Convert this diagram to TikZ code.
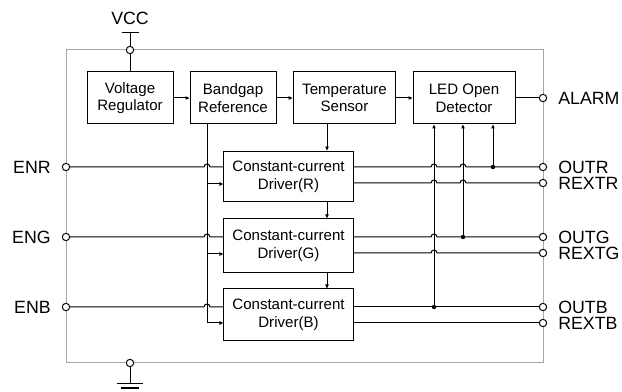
\documentclass[tikz,border=0pt]{standalone}
\usepackage{fontspec}
\setmainfont{Liberation Sans}
\usetikzlibrary{arrows.meta,positioning}

\begin{document}
\begin{tikzpicture}[x=.75pt,y=-.75pt,line width=.75pt,
  blk/.style={draw,inner sep=0pt,align=center,font=\fontsize{11.3}{13.3}\selectfont},
  pin/.style={draw,circle,fill=white,inner sep=0pt,minimum size=5.5pt},
  pinlbl/.style={inner sep=0pt,font=\fontsize{13.3}{15}\selectfont},
  arr/.style={-{Triangle[length=3pt,width=2.5pt]}}]
\path[use as bounding box] (0,0) rectangle (622,392);
% chip outline
\draw[gray!70] (66,50) rectangle (543,363);
% function blocks
\node[blk,minimum width=64.5pt,minimum height=39pt] (vreg) at (130,98) {Voltage\\Regulator};
\node[blk,minimum width=64.5pt,minimum height=39pt] (bgref) at (233,98) {Bandgap\\Reference};
\node[blk,minimum width=77pt,minimum height=39pt] (tsens) at (344.5,98) {Temperature\\Sensor};
\node[blk,minimum width=76.5pt,minimum height=39pt] (ledod) at (464,98) {LED Open\\Detector};
\node[blk,minimum width=97pt,minimum height=38pt] (drvr) at (288.5,176.5) {Constant-current\\Driver(R)};
\node[blk,minimum width=97pt,minimum height=40pt] (drvg) at (288.5,245.5) {Constant-current\\Driver(G)};
\node[blk,minimum width=97pt,minimum height=39pt] (drvb) at (288.5,315) {Constant-current\\Driver(B)};
% pins
\node[pin] (pvcc) at (130,50) {};
\node[pin] (pgnd) at (130,363) {};
\node[pin] (penr) at (66,167) {};
\node[pin] (peng) at (66,237) {};
\node[pin] (penb) at (66,307) {};
\node[pin] (palarm) at (543,98) {};
\node[pin] (poutr) at (543,167) {};
\node[pin] (prextr) at (543,183) {};
\node[pin] (poutg) at (543,237) {};
\node[pin] (prextg) at (543,253) {};
\node[pin] (poutb) at (543,307) {};
\node[pin] (prextb) at (543,323) {};
% pin labels
\node[pinlbl,left=8pt of penr] {ENR};
\node[pinlbl,left=8pt of peng] {ENG};
\node[pinlbl,left=8pt of penb] {ENB};
\node[pinlbl,right=8pt of palarm] {ALARM};
\node[pinlbl,right=8pt of poutr] {OUTR};
\node[pinlbl,right=8pt of prextr] {REXTR};
\node[pinlbl,right=8pt of poutg] {OUTG};
\node[pinlbl,right=8pt of prextg] {REXTG};
\node[pinlbl,right=8pt of poutb] {OUTB};
\node[pinlbl,right=8pt of prextb] {REXTB};
% supply and ground
\coordinate (vccbar) at (130,33);
\coordinate (gndbar) at (130,384);
\draw (pvcc) -- (vreg);
\draw (pvcc) -- (vccbar);
\draw (vccbar) ++(-8.5,0) -- ++(17,0);
\node[pinlbl,above=6pt of vccbar] {VCC};
\draw (pgnd) -- (gndbar);
\draw (gndbar) ++(-13,0) -- ++(26,0);
\draw[line width=1.5pt] (gndbar) ++(-9,4) -- ++(18,0);
% top row
\draw[arr] (vreg) -- (bgref);
\draw[arr] (bgref) -- (tsens);
\draw[arr] (tsens) -- (ledod);
\draw (ledod) -- (palarm);
% reference to drivers
\draw[arr] (207,0 |- bgref.south) -- (207,0 |- prextb) -- (drvb.west |- prextb);
\draw[arr] (207,184) -- (drvr.west |- 0,184);
\draw[arr] (207,254) -- (drvg.west |- 0,254);
% temperature chain
\draw[arr] (327,0 |- tsens.south) -- (327,0 |- drvr.north);
\draw[arr] (327,0 |- drvr.south) -- (327,0 |- drvg.north);
\draw[arr] (327,0 |- drvg.south) -- (327,0 |- drvb.north);
% enable inputs
\draw (penr) -- (204,167) arc[start angle=180,end angle=360,radius=3] -- (drvr.west |- penr);
\draw (peng) -- (204,237) arc[start angle=180,end angle=360,radius=3] -- (drvg.west |- peng);
\draw (penb) -- (204,307) arc[start angle=180,end angle=360,radius=3] -- (drvb.west |- penb);
% outputs
\draw (drvr.east |- poutr) -- (431,167) arc[start angle=180,end angle=360,radius=3]
  -- (460,167) arc[start angle=180,end angle=360,radius=3] -- (poutr);
\draw (drvr.east |- prextr) -- (431,183) arc[start angle=180,end angle=360,radius=3]
  -- (460,183) arc[start angle=180,end angle=360,radius=3] -- (prextr);
\draw (drvg.east |- poutg) -- (431,237) arc[start angle=180,end angle=360,radius=3] -- (poutg);
\draw (drvg.east |- prextg) -- (431,253) arc[start angle=180,end angle=360,radius=3] -- (prextg);
\draw (drvb.east |- poutb) -- (poutb);
\draw (drvb.east |- prextb) -- (prextb);
% open detection taps
\coordinate (jr) at (493,167);
\coordinate (jg) at (463,237);
\coordinate (jb) at (434,307);
\draw[arr] (jr) -- (jr |- ledod.south);
\draw[arr] (jg) -- (jg |- ledod.south);
\draw[arr] (jb) -- (jb |- ledod.south);
\fill (jr) circle (2.2);
\fill (jg) circle (2.2);
\fill (jb) circle (2.2);
\end{tikzpicture}
\end{document}
